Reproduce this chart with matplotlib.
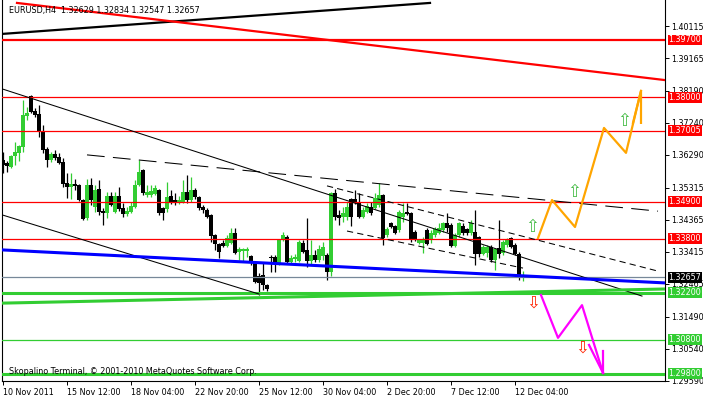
import numpy as np
import matplotlib.pyplot as plt
from matplotlib.transforms import blended_transform_factory

# EURUSD H4 bars, 10 Nov 2011 20:00 .. 12 Dec 2011
opens = [1.3614, 1.3605, 1.3593, 1.3626, 1.3635, 1.3652, 1.3744, 1.3804, 1.3759, 1.3750,
         1.3700, 1.3646, 1.3614, 1.3632, 1.3623, 1.3608, 1.3546, 1.3534, 1.3543, 1.3540,
         1.3495, 1.3442, 1.3540, 1.3474, 1.3528, 1.3462, 1.3456, 1.3507, 1.3459, 1.3507,
         1.3471, 1.3453, 1.3459, 1.3474, 1.3540, 1.3584, 1.3510, 1.3510, 1.3513, 1.3525,
         1.3471, 1.3468, 1.3507, 1.3495, 1.3489, 1.3489, 1.3519, 1.3495, 1.3525, 1.3504,
         1.3474, 1.3465, 1.3450, 1.3391, 1.3365, 1.3368, 1.3359, 1.3368, 1.3397, 1.3341,
         1.3344, 1.3344, 1.3329, 1.3308, 1.3269, 1.3272, 1.3243, 1.3326, 1.3326, 1.3308,
         1.3376, 1.3385, 1.3311, 1.3320, 1.3314, 1.3368, 1.3347, 1.3314, 1.3332, 1.3317,
         1.3329, 1.3332, 1.3281, 1.3516, 1.3450, 1.3445, 1.3445, 1.3498, 1.3498, 1.3489,
         1.3445, 1.3459, 1.3474, 1.3471, 1.3480, 1.3510, 1.3391, 1.3427, 1.3418, 1.3406,
         1.3445, 1.3459, 1.3456, 1.3400, 1.3368, 1.3368, 1.3406, 1.3376, 1.3391, 1.3397,
         1.3406, 1.3427, 1.3421, 1.3359, 1.3391, 1.3418, 1.3409, 1.3397, 1.3400, 1.3385,
         1.3335, 1.3338, 1.3356, 1.3317, 1.3353, 1.3338, 1.3362, 1.3382, 1.3362, 1.3335,
         1.32629]
highs = [1.3638, 1.3611, 1.3629, 1.3667, 1.3658, 1.3792, 1.3771, 1.3807, 1.3768, 1.3777,
         1.3718, 1.3652, 1.3638, 1.3644, 1.3635, 1.3620, 1.3575, 1.3575, 1.3557, 1.3543,
         1.3498, 1.3557, 1.3560, 1.3540, 1.3554, 1.3471, 1.3519, 1.3519, 1.3519, 1.3534,
         1.3486, 1.3474, 1.3489, 1.3554, 1.3614, 1.3587, 1.3540, 1.3540, 1.3540, 1.3528,
         1.3474, 1.3549, 1.3525, 1.3516, 1.3507, 1.3554, 1.3569, 1.3563, 1.3531, 1.3507,
         1.3480, 1.3471, 1.3453, 1.3394, 1.3368, 1.3376, 1.3391, 1.3412, 1.3412, 1.3356,
         1.3353, 1.3356, 1.3332, 1.3311, 1.3278, 1.3308, 1.3246, 1.3332, 1.3332, 1.3379,
         1.3400, 1.3391, 1.3332, 1.3335, 1.3376, 1.3376, 1.3442, 1.3376, 1.3347, 1.3362,
         1.3370, 1.3338, 1.3519, 1.3528, 1.3465, 1.3474, 1.3489, 1.3501, 1.3525, 1.3516,
         1.3474, 1.3486, 1.3489, 1.3516, 1.3546, 1.3513, 1.3415, 1.3430, 1.3421, 1.3465,
         1.3486, 1.3486, 1.3459, 1.3406, 1.3379, 1.3385, 1.3412, 1.3406, 1.3415, 1.3427,
         1.3430, 1.3456, 1.3427, 1.3397, 1.3430, 1.3427, 1.3412, 1.3436, 1.3465, 1.3388,
         1.3362, 1.3362, 1.3362, 1.3353, 1.3436, 1.3376, 1.3382, 1.3385, 1.3368, 1.3341,
         1.32834]
lows = [1.3575, 1.3578, 1.3590, 1.3599, 1.3611, 1.3638, 1.3733, 1.3753, 1.3741, 1.3682,
        1.3635, 1.3593, 1.3608, 1.3614, 1.3602, 1.3534, 1.3501, 1.3498, 1.3525, 1.3492,
        1.3436, 1.3436, 1.3480, 1.3459, 1.3450, 1.3421, 1.3442, 1.3477, 1.3456, 1.3462,
        1.3445, 1.3448, 1.3456, 1.3471, 1.3537, 1.3510, 1.3504, 1.3504, 1.3510, 1.3450,
        1.3436, 1.3459, 1.3483, 1.3480, 1.3483, 1.3486, 1.3486, 1.3489, 1.3498, 1.3465,
        1.3456, 1.3442, 1.3370, 1.3347, 1.3323, 1.3356, 1.3356, 1.3365, 1.3335, 1.3317,
        1.3311, 1.3326, 1.3302, 1.3249, 1.3213, 1.3228, 1.3225, 1.3281, 1.3281, 1.3302,
        1.3373, 1.3308, 1.3305, 1.3311, 1.3311, 1.3338, 1.3296, 1.3305, 1.3311, 1.3311,
        1.3317, 1.3258, 1.3269, 1.3436, 1.3421, 1.3430, 1.3436, 1.3418, 1.3483, 1.3442,
        1.3442, 1.3456, 1.3450, 1.3468, 1.3474, 1.3362, 1.3385, 1.3412, 1.3394, 1.3400,
        1.3430, 1.3450, 1.3370, 1.3373, 1.3365, 1.3338, 1.3362, 1.3368, 1.3385, 1.3394,
        1.3400, 1.3400, 1.3356, 1.3356, 1.3385, 1.3391, 1.3391, 1.3391, 1.3302, 1.3326,
        1.3332, 1.3326, 1.3311, 1.3287, 1.3323, 1.3332, 1.3356, 1.3353, 1.3332, 1.3258,
        1.32547]
closes = [1.3599, 1.3596, 1.3626, 1.3638, 1.3655, 1.3747, 1.3753, 1.3756, 1.3747, 1.3697,
          1.3644, 1.3614, 1.3632, 1.3620, 1.3605, 1.3543, 1.3534, 1.3543, 1.3537, 1.3495,
          1.3439, 1.3540, 1.3495, 1.3525, 1.3459, 1.3456, 1.3507, 1.3480, 1.3507, 1.3468,
          1.3453, 1.3462, 1.3477, 1.3540, 1.3578, 1.3516, 1.3519, 1.3522, 1.3531, 1.3456,
          1.3456, 1.3504, 1.3486, 1.3486, 1.3495, 1.3519, 1.3495, 1.3525, 1.3504, 1.3471,
          1.3465, 1.3445, 1.3388, 1.3365, 1.3341, 1.3359, 1.3382, 1.3397, 1.3338, 1.3350,
          1.3350, 1.3350, 1.3308, 1.3252, 1.3249, 1.3243, 1.3231, 1.3323, 1.3308, 1.3376,
          1.3391, 1.3311, 1.3323, 1.3326, 1.3370, 1.3341, 1.3314, 1.3332, 1.3317, 1.3350,
          1.3356, 1.3281, 1.3516, 1.3445, 1.3442, 1.3456, 1.3474, 1.3445, 1.3486, 1.3445,
          1.3465, 1.3477, 1.3456, 1.3501, 1.3510, 1.3382, 1.3409, 1.3415, 1.3397, 1.3459,
          1.3456, 1.3453, 1.3376, 1.3376, 1.3376, 1.3379, 1.3365, 1.3397, 1.3409, 1.3412,
          1.3427, 1.3412, 1.3359, 1.3391, 1.3427, 1.3397, 1.3397, 1.3427, 1.3335, 1.3335,
          1.3356, 1.3356, 1.3317, 1.3350, 1.3335, 1.3370, 1.3376, 1.3356, 1.3335, 1.3267,
          1.32657]

time_ticks = [0, 16, 32, 48, 64, 80, 96, 112, 128]
time_labels = ["10 Nov 2011", "15 Nov 12:00", "18 Nov 04:00", "22 Nov 20:00",
               "25 Nov 12:00", "30 Nov 04:00", "2 Dec 20:00", "7 Dec 12:00", "12 Dec 04:00"]
price_ticks = [1.40115, 1.39165, 1.38190, 1.37240, 1.36290, 1.35315,
               1.34365, 1.33415, 1.32465, 1.31490, 1.30540, 1.29590]

red_levels = [1.3970, 1.3800, 1.37005, 1.3490, 1.3380]
green_levels = [1.3220, 1.3080, 1.2980]
last_price = 1.32657

# trend lines: (bar index, price) end points
top_black_x, top_black_y = [-0.25, 106.75], [1.3988, 1.4080]
red_diag_x, red_diag_y = [3.5, 165.5], [1.4080, 1.3851]
chan_up_x, chan_up_y = [-0.25, 159.75], [1.3825, 1.3210]
chan_lo_x, chan_lo_y = [-0.25, 64], [1.3451, 1.3216]
dash_x, dash_y = [21, 163.75], [1.3629, 1.3462]
small_up_x, small_up_y = [81, 163.75], [1.3537, 1.3284]
small_lo_x, small_lo_y = [86, 130], [1.3403, 1.3293]
blue_x, blue_y = [-0.25, 165.5], [1.3347, 1.3249]
green_diag_x, green_diag_y = [-0.25, 165.5], [1.3189, 1.3231]

# forecast paths
orange_x = [133.75, 137.25, 143, 150.25, 155.75, 159.5, 159.5]
orange_y = [1.3382, 1.3495, 1.3415, 1.3709, 1.3635, 1.3819, 1.3724]
orange_tip_x, orange_tip_y = [157.5, 159.5], [1.3724, 1.3819]
magenta_x = [134.5, 138.75, 144.75, 150]
magenta_y = [1.3213, 1.3086, 1.3183, 1.2982]
magenta_tip_x = [[146.5, 150], [150, 150]]
magenta_tip_y = [[1.3065, 1.2982], [1.3047, 1.2982]]

up_arrow_x, up_arrow_y = [132.25, 142.75, 155.25], [1.3415, 1.3519, 1.3730]
down_arrow_x, down_arrow_y = [132.5, 144.75], [1.3192, 1.3056]

RED = "#FF0000"
GREEN = "#32CD32"
FS = 5.8

fig = plt.figure(figsize=(7.03, 3.98), dpi=100)
ax = fig.add_axes([2 / 703, 17 / 398, 663 / 703, 381 / 398])

o = np.array(opens); h = np.array(highs); l = np.array(lows); c = np.array(closes)
x = np.arange(len(o))
col = np.where(c >= o, GREEN, "black")
ax.vlines(x, l, h, colors=col, lw=0.9, zorder=2)
ax.bar(x, np.maximum(np.abs(c - o), 0.00025), bottom=np.minimum(o, c), width=0.78,
       color=col, lw=0, zorder=3)

# horizontal levels
ax.axhline(red_levels[0], color=RED, lw=1.6, zorder=4)
for lv in red_levels[1:]:
    ax.axhline(lv, color=RED, lw=0.9, zorder=4)
ax.axhline(green_levels[0], color=GREEN, lw=2.2, zorder=4)
ax.axhline(green_levels[1], color=GREEN, lw=0.9, zorder=4)
ax.axhline(green_levels[2], color=GREEN, lw=2.2, zorder=4)
ax.axhline(last_price, color="#778899", lw=0.9, zorder=4)

# trend lines
ax.plot(top_black_x, top_black_y, color="black", lw=1.6, zorder=5)
ax.plot(red_diag_x, red_diag_y, color=RED, lw=1.6, zorder=5)
ax.plot(chan_up_x, chan_up_y, color="black", lw=0.75, zorder=5)
ax.plot(chan_lo_x, chan_lo_y, color="black", lw=0.75, zorder=5)
ax.plot(dash_x, dash_y, color="black", lw=0.75, ls=(0, (17, 8)), zorder=5)
ax.plot(small_up_x, small_up_y, color="black", lw=0.75, ls=(0, (6, 4)), zorder=5)
ax.plot(small_lo_x, small_lo_y, color="black", lw=0.75, ls=(0, (6, 4)), zorder=5)
ax.plot(blue_x, blue_y, color="#0000FF", lw=2.2, zorder=5)
ax.plot(green_diag_x, green_diag_y, color=GREEN, lw=2.2, zorder=5)

# forecast paths
ax.plot(orange_x, orange_y, color="#FFA500", lw=1.6, zorder=6)
ax.plot(orange_tip_x, orange_tip_y, color="#FFA500", lw=1.6, zorder=6)
ax.plot(magenta_x, magenta_y, color="#FF00FF", lw=1.6, zorder=6)
for tx, ty in zip(magenta_tip_x, magenta_tip_y):
    ax.plot(tx, ty, color="#FF00FF", lw=1.6, zorder=6)
for ux, uy in zip(up_arrow_x, up_arrow_y):
    ax.text(ux, uy, "\u21e7", color="#44BB44", fontsize=12, ha="center", va="center", zorder=7)
for dx, dy in zip(down_arrow_x, down_arrow_y):
    ax.text(dx, dy, "\u21e9", color="#FF2200", fontsize=12, ha="center", va="center", zorder=7)

ax.set_xlim(-0.25, 165.5)
ax.set_ylim(1.29579, 1.40887)

# axes styling
for s in ["left", "right", "bottom"]:
    ax.spines[s].set_linewidth(0.8)
ax.spines["top"].set_visible(False)
ax.yaxis.tick_right()
ax.set_yticks(price_ticks)
ax.set_yticklabels([f"{v:.5f}" for v in price_ticks])
ax.tick_params(axis="y", direction="out", length=3, width=0.7, labelsize=FS, pad=1.5)
ax.set_xticks(time_ticks)
ax.set_xticklabels(time_labels)
ax.tick_params(axis="x", direction="out", length=3, width=0.7, labelsize=FS, pad=2)
for lab in ax.get_xticklabels():
    lab.set_ha("left")

# price tags on the right
trans = blended_transform_factory(ax.transAxes, ax.transData)
tags = [(lv, RED) for lv in red_levels] + [(last_price, "black")] + [(lv, GREEN) for lv in green_levels]
for lv, fc in tags:
    ax.text(1.0055, lv, f"{lv:.5f}", transform=trans, color="white", fontsize=FS,
            ha="left", va="center", clip_on=False, zorder=10,
            bbox=dict(boxstyle="square,pad=0.12", fc=fc, ec="none"))

ax.text(7 / 663, 1 - 10 / 381, "EURUSD,H4  1.32629 1.32834 1.32547 1.32657",
        transform=ax.transAxes, fontsize=FS, ha="left", va="center", zorder=10)
ax.text(7 / 663, 1 - 372 / 381, "Skopalino Terminal, \u00a9 2001-2010 MetaQuotes Software Corp.",
        transform=ax.transAxes, fontsize=FS, ha="left", va="center", zorder=10)

fig.savefig("out.png", dpi=100)
